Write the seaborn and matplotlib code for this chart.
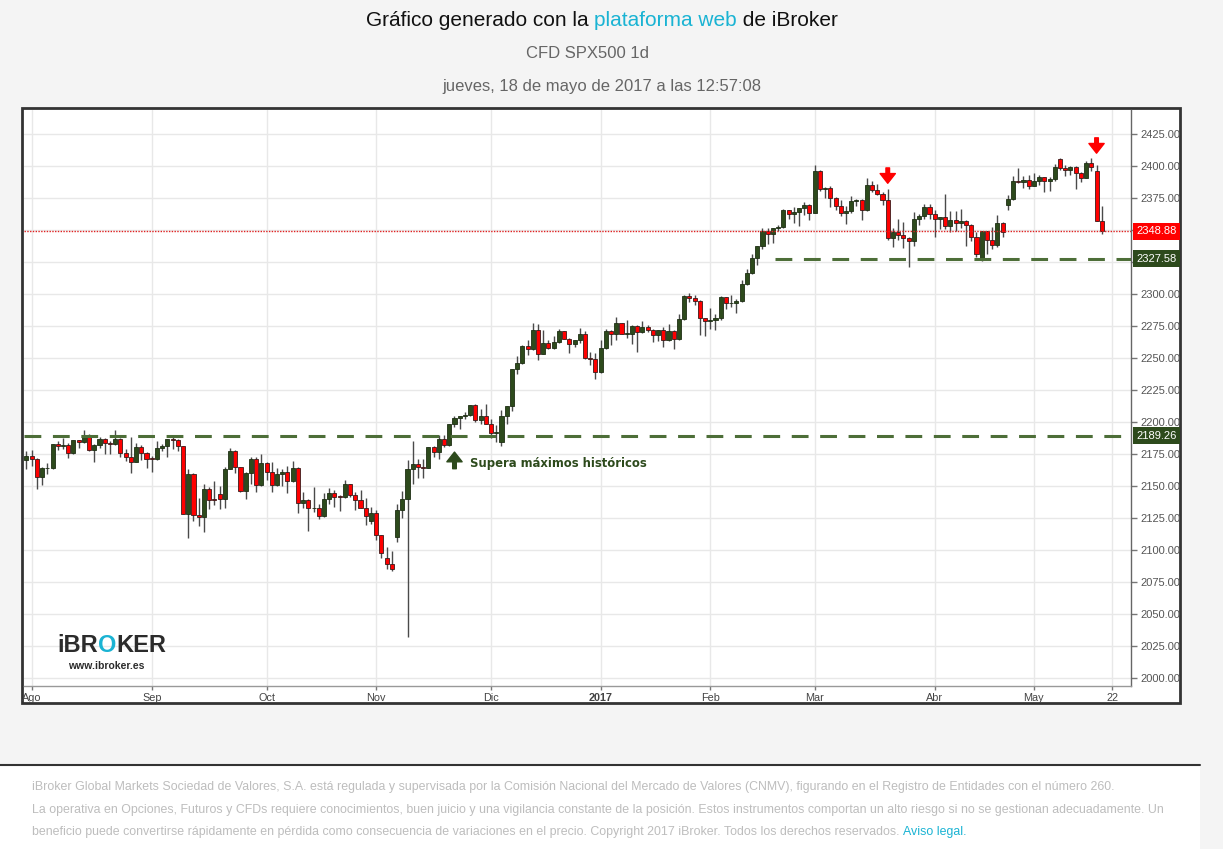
import matplotlib
matplotlib.use("Agg")
import matplotlib.pyplot as plt
import seaborn as sns
import pandas as pd
import numpy as np
from matplotlib.patches import Rectangle

# ---------------- data ----------------
dates = [
 "2016-07-29","2016-08-01","2016-08-02","2016-08-03","2016-08-04","2016-08-05","2016-08-08","2016-08-09","2016-08-10","2016-08-11","2016-08-12",
 "2016-08-15","2016-08-16","2016-08-17","2016-08-18","2016-08-19","2016-08-22","2016-08-23","2016-08-24","2016-08-25","2016-08-26",
 "2016-08-29","2016-08-30","2016-08-31","2016-09-01","2016-09-02","2016-09-05","2016-09-06","2016-09-07","2016-09-08","2016-09-09",
 "2016-09-12","2016-09-13","2016-09-14","2016-09-15","2016-09-16","2016-09-19","2016-09-20","2016-09-21","2016-09-22","2016-09-23",
 "2016-09-26","2016-09-27","2016-09-28","2016-09-29","2016-09-30","2016-10-03","2016-10-04","2016-10-05","2016-10-06","2016-10-07",
 "2016-10-10","2016-10-11","2016-10-12","2016-10-13","2016-10-14","2016-10-17","2016-10-18","2016-10-19","2016-10-20","2016-10-21",
 "2016-10-24","2016-10-25","2016-10-26","2016-10-27","2016-10-28","2016-10-31","2016-11-01","2016-11-02","2016-11-03","2016-11-04",
 "2016-11-07","2016-11-08","2016-11-09","2016-11-10","2016-11-11","2016-11-14","2016-11-15","2016-11-16","2016-11-17","2016-11-18",
 "2016-11-21","2016-11-22","2016-11-23","2016-11-24","2016-11-25","2016-11-28","2016-11-29","2016-11-30","2016-12-01","2016-12-02",
 "2016-12-05","2016-12-06","2016-12-07","2016-12-08","2016-12-09","2016-12-12","2016-12-13","2016-12-14","2016-12-15","2016-12-16",
 "2016-12-19","2016-12-20","2016-12-21","2016-12-22","2016-12-23","2016-12-27","2016-12-28","2016-12-29","2016-12-30",
 "2017-01-03","2017-01-04","2017-01-05","2017-01-06","2017-01-09","2017-01-10","2017-01-11","2017-01-12","2017-01-13",
 "2017-01-16","2017-01-17","2017-01-18","2017-01-19","2017-01-20","2017-01-23","2017-01-24","2017-01-25","2017-01-26","2017-01-27",
 "2017-01-30","2017-01-31","2017-02-01","2017-02-02","2017-02-03","2017-02-06","2017-02-07","2017-02-08","2017-02-09","2017-02-10",
 "2017-02-13","2017-02-14","2017-02-15","2017-02-16","2017-02-17","2017-02-20","2017-02-21","2017-02-22","2017-02-23","2017-02-24",
 "2017-02-27","2017-02-28","2017-03-01","2017-03-02","2017-03-03","2017-03-06","2017-03-07","2017-03-08","2017-03-09","2017-03-10",
 "2017-03-13","2017-03-14","2017-03-15","2017-03-16","2017-03-17","2017-03-20","2017-03-21","2017-03-22","2017-03-23","2017-03-24",
 "2017-03-27","2017-03-28","2017-03-29","2017-03-30","2017-03-31","2017-04-03","2017-04-04","2017-04-05","2017-04-06","2017-04-07",
 "2017-04-10","2017-04-11","2017-04-12","2017-04-13","2017-04-17","2017-04-18","2017-04-19","2017-04-20","2017-04-21",
 "2017-04-24","2017-04-25","2017-04-26","2017-04-27","2017-04-28","2017-05-01","2017-05-02","2017-05-03","2017-05-04","2017-05-05",
 "2017-05-08","2017-05-09","2017-05-10","2017-05-11","2017-05-12","2017-05-15","2017-05-16","2017-05-17","2017-05-18",
]

opens = [
 2170.0,2173.6,2170.8,2157.0,2163.8,2164.3,2182.9,2180.9,2181.7,2175.5,2185.8,
 2184.1,2190.2,2178.2,2182.2,2187.0,2183.9,2182.6,2186.9,2175.4,2172.5,
 2169.0,2180.4,2176.1,2171.0,2170.9,2180.0,2181.0,2186.5,2186.2,2181.3,
 2127.8,2159.0,2127.0,2125.8,2147.3,2139.2,2143.5,2139.8,2163.1,2177.2,
 2164.7,2146.1,2159.9,2171.4,2151.1,2168.3,2161.2,2150.5,2159.7,2160.8,
 2153.7,2163.7,2136.7,2139.2,2132.6,2133.0,2126.5,2139.6,2144.3,2141.3,
 2141.2,2151.3,2143.2,2139.4,2133.0,2122.5,2129.0,2111.7,2094.0,2089.0,
 2110.0,2131.5,2139.6,2163.3,2167.5,2164.5,2164.2,2180.4,2176.9,2187.1,
 2181.9,2198.2,2202.9,2204.7,2205.5,2213.4,2201.7,2204.7,2198.8,2191.1,
 2184.5,2204.7,2212.2,2241.4,2246.2,2259.5,2257.0,2271.7,2253.3,2262.0,
 2258.1,2262.5,2270.8,2265.2,2261.0,2263.8,2268.9,2249.9,2249.3,
 2238.8,2257.8,2270.8,2269.0,2277.0,2268.9,2268.9,2275.3,2270.4,
 2274.6,2272.0,2267.9,2271.9,2263.7,2271.3,2265.2,2280.1,2298.4,2296.7,
 2294.7,2280.9,2278.9,2279.6,2280.9,2297.4,2292.6,2293.1,2294.7,2307.9,
 2316.1,2328.3,2337.6,2349.3,2347.2,2351.2,2352.0,2365.4,2362.8,2363.8,
 2367.3,2369.8,2363.6,2396.0,2381.9,2383.1,2375.3,2368.4,2363.0,2364.9,
 2372.6,2373.5,2365.5,2385.3,2381.4,2378.3,2373.5,2344.0,2348.5,2346.0,
 2344.0,2341.6,2358.6,2361.1,2368.1,2362.7,2358.8,2360.2,2353.0,2357.5,
 2355.5,2357.2,2353.8,2344.9,2327.0,2349.0,2342.2,2338.2,2355.8,
 2369.5,2374.2,2388.6,2387.5,2388.8,2384.2,2388.3,2391.2,2388.1,2389.5,
 2405.5,2398.5,2396.9,2399.6,2394.4,2390.9,2402.3,2396.0,2357.0,
]

highs = [
 2177.0,2178.3,2171.5,2165.0,2168.2,2182.9,2185.4,2187.7,2183.4,2186.3,2186.3,
 2193.8,2190.5,2183.1,2187.9,2187.5,2185.0,2193.4,2187.2,2179.0,2187.9,
 2183.5,2182.3,2176.5,2173.6,2184.9,2183.0,2186.6,2187.9,2186.8,2181.5,
 2163.3,2160.0,2141.0,2151.8,2149.0,2153.6,2150.0,2165.1,2179.9,2178.0,
 2165.0,2161.0,2172.4,2172.7,2175.3,2168.5,2169.0,2163.9,2162.9,2165.9,
 2169.6,2165.0,2145.4,2139.5,2149.2,2135.6,2144.4,2148.4,2147.2,2142.6,
 2154.8,2151.6,2145.7,2147.1,2140.7,2133.3,2131.0,2112.0,2102.6,2099.0,
 2136.0,2146.0,2170.1,2185.0,2171.0,2171.4,2180.8,2181.0,2189.9,2189.9,
 2198.7,2204.8,2204.7,2208.0,2213.4,2214.0,2210.4,2214.1,2202.6,2197.9,
 2209.4,2212.6,2241.6,2251.7,2259.8,2264.0,2277.5,2276.2,2272.1,2263.9,
 2267.0,2272.6,2271.2,2266.0,2264.0,2273.8,2271.3,2254.5,2253.6,
 2263.9,2272.8,2271.5,2282.1,2277.5,2279.3,2275.5,2275.8,2278.7,
 2276.0,2273.0,2272.0,2274.3,2276.9,2271.8,2284.6,2299.6,2301.0,2299.0,
 2295.0,2281.5,2289.1,2284.0,2298.3,2298.0,2299.4,2295.9,2311.1,2319.2,
 2331.6,2337.6,2351.3,2351.3,2351.2,2354.0,2366.7,2366.0,2368.3,2367.3,
 2371.5,2370.5,2401.0,2396.5,2383.9,2384.0,2376.0,2373.6,2369.1,2376.9,
 2374.4,2374.0,2390.6,2388.1,2385.7,2379.3,2382.0,2351.8,2358.6,2356.2,
 2344.9,2363.8,2362.6,2370.4,2370.4,2365.9,2360.5,2378.4,2364.8,2365.1,
 2366.4,2357.5,2354.5,2348.3,2349.1,2349.5,2352.6,2361.4,2356.2,
 2377.0,2392.0,2398.2,2392.4,2393.1,2394.5,2392.9,2391.5,2391.4,2401.5,
 2406.5,2400.5,2399.7,2400.0,2395.0,2404.0,2406.0,2401.0,2369.0,
]

lows = [
 2163.5,2166.0,2147.6,2150.6,2159.1,2163.5,2177.8,2178.6,2172.0,2174.8,2179.4,
 2183.5,2177.0,2168.5,2180.0,2175.1,2175.1,2182.0,2172.5,2169.7,2160.4,
 2168.5,2170.4,2164.0,2161.1,2170.0,2177.5,2173.0,2179.0,2177.0,2127.8,
 2109.0,2123.0,2119.0,2114.0,2132.0,2135.0,2132.0,2133.0,2163.0,2160.0,
 2145.0,2140.0,2151.8,2145.2,2150.0,2155.0,2145.0,2150.0,2150.0,2144.9,
 2153.0,2128.8,2132.8,2114.7,2130.0,2124.4,2126.0,2135.6,2133.4,2130.1,
 2141.0,2141.5,2131.6,2132.5,2119.4,2120.5,2108.0,2094.0,2085.2,2083.8,
 2106.0,2125.0,2032.0,2151.2,2156.1,2156.1,2163.8,2172.4,2171.4,2180.4,
 2181.5,2196.0,2194.5,2202.0,2204.5,2200.0,2198.2,2198.8,2187.4,2184.0,
 2181.0,2198.8,2208.9,2237.6,2245.0,2252.4,2256.0,2248.4,2253.2,2257.0,
 2257.0,2262.0,2265.2,2254.0,2258.8,2262.0,2249.1,2244.6,2233.6,
 2238.0,2257.0,2260.5,2264.0,2268.5,2265.3,2260.8,2254.3,2269.5,
 2270.0,2262.8,2263.4,2258.4,2263.0,2257.0,2264.0,2279.5,2294.1,2291.6,
 2268.0,2267.2,2272.4,2271.7,2280.0,2288.6,2290.2,2285.4,2294.0,2307.0,
 2315.5,2322.4,2334.8,2338.9,2339.6,2349.0,2351.5,2358.3,2355.1,2352.9,
 2361.9,2358.1,2363.0,2380.2,2375.1,2368.0,2365.5,2361.0,2354.5,2363.0,
 2368.5,2358.2,2365.0,2379.4,2377.6,2369.7,2341.9,2336.5,2342.1,2335.7,
 2321.0,2337.6,2353.6,2358.6,2358.8,2344.7,2350.7,2350.5,2348.4,2349.6,
 2351.5,2337.3,2341.2,2328.9,2325.5,2331.3,2335.3,2337.0,2344.5,
 2366.0,2373.5,2386.8,2382.7,2382.4,2384.0,2385.2,2379.8,2380.4,2388.5,
 2396.5,2392.4,2392.8,2381.7,2387.2,2390.5,2396.0,2356.9,2347.0,
]

closes = [
 2173.6,2170.8,2157.0,2163.8,2164.3,2182.9,2180.9,2181.7,2175.5,2185.8,2184.1,
 2190.2,2178.2,2182.2,2187.0,2183.9,2182.6,2186.9,2175.4,2172.5,2169.0,
 2180.4,2176.1,2171.0,2170.9,2180.0,2181.0,2186.5,2186.2,2181.3,2127.8,
 2159.0,2127.0,2125.8,2147.3,2139.2,2139.1,2139.8,2163.1,2177.2,2164.7,
 2146.1,2159.9,2171.4,2151.1,2168.3,2161.2,2150.5,2159.7,2160.8,2153.7,
 2163.7,2136.7,2139.2,2132.6,2133.0,2126.5,2139.6,2144.3,2141.3,2141.2,
 2151.3,2143.2,2139.4,2133.0,2126.4,2129.0,2111.7,2097.9,2088.7,2085.2,
 2131.5,2139.6,2163.3,2167.5,2164.5,2164.2,2180.4,2176.9,2187.1,2181.9,
 2198.2,2202.9,2204.7,2205.5,2213.4,2201.7,2204.7,2198.8,2191.1,2192.0,
 2204.7,2212.2,2241.4,2246.2,2259.5,2257.0,2271.7,2253.3,2262.0,2258.1,
 2262.5,2270.8,2265.2,2261.0,2263.8,2268.9,2249.9,2249.3,2238.8,
 2257.8,2270.8,2269.0,2277.0,2268.9,2268.9,2275.3,2270.4,2274.6,
 2272.0,2267.9,2271.9,2263.7,2271.3,2265.2,2280.1,2298.4,2296.7,2294.7,
 2280.9,2278.9,2279.6,2280.9,2297.4,2292.6,2293.1,2294.7,2307.9,2316.1,
 2328.3,2337.6,2349.3,2347.2,2351.2,2352.0,2365.4,2362.8,2363.8,2367.3,
 2369.8,2363.6,2396.0,2381.9,2383.1,2375.3,2368.4,2363.0,2364.9,2372.6,
 2373.5,2365.5,2385.3,2381.4,2378.3,2373.5,2344.0,2348.5,2346.0,2344.0,
 2341.6,2358.6,2361.1,2368.1,2362.7,2358.8,2360.2,2353.0,2357.5,2355.5,
 2357.2,2353.8,2344.9,2331.0,2349.0,2342.2,2338.2,2355.8,2348.7,
 2374.2,2388.6,2387.5,2388.8,2384.2,2388.3,2391.2,2388.1,2389.5,2399.3,
 2398.5,2396.9,2399.6,2394.4,2390.9,2402.3,2399.5,2357.0,2348.88,
]

tick_labels = ["Ago", "Sep", "Oct", "Nov", "Dic", "2017", "Feb", "Mar", "Abr", "May", "22"]
tick_dates = ["2016-08-01", "2016-09-01", "2016-10-03", "2016-11-01", "2016-12-01", "2017-01-03",
              "2017-02-01", "2017-03-01", "2017-04-03", "2017-05-01", "2017-05-22"]

level_values = [2348.88, 2327.58, 2189.26]
level_labels = ["2348.88", "2327.58", "2189.26"]
level_start = [None, "2017-02-17", None]

down_arrow_dates = ["2017-03-21", "2017-05-17"]
down_arrow_prices = [2392.0, 2415.5]
up_arrow_date = "2016-11-22"
up_arrow_price = 2170.0
note_text = "Supera máximos históricos"

# ---------------- style ----------------
sns.set_theme(style="white")
plt.rcParams["font.family"] = ["Liberation Sans", "DejaVu Sans"]

W, H = 1223, 849
BG = "#f4f4f4"
GREEN = "#2d4a1c"
RED = "#ff0000"
LEVEL_GREEN = "#4d6e38"
CYAN = "#1ab3d3"

fig = plt.figure(figsize=(W / 100, H / 100), dpi=100, facecolor=BG)

def fx(px):
    return px / W

def fy(py):
    return 1 - py / H

# white chart box with dark frame
fig.patches.append(Rectangle((fx(22), fy(703)), fx(1180) - fx(22), fy(108) - fy(703),
                             transform=fig.transFigure, facecolor="white",
                             edgecolor="#333333", linewidth=2, zorder=-5))
# footer
fig.patches.append(Rectangle((0, 0), fx(1200), fy(765), transform=fig.transFigure,
                             facecolor="white", edgecolor="none", zorder=-5))
fig.lines.append(plt.Line2D([0, fx(1200)], [fy(765), fy(765)], transform=fig.transFigure,
                            color="#333333", linewidth=1.5, zorder=-4))

ax = fig.add_axes([fx(24), fy(686), fx(1131) - fx(24), fy(110) - fy(686)])
ax.set_zorder(2)
ax.set_facecolor("white")

df = pd.DataFrame({"date": pd.to_datetime(dates), "open": opens, "high": highs,
                   "low": lows, "close": closes})
df["x"] = np.arange(len(df))
pos = {d: i for i, d in enumerate(dates)}

def xpos(d):
    if d in pos:
        return pos[d]
    last = dates[-1]
    return len(dates) - 1 + np.busday_count(last, d)

up = df["close"] >= df["open"]
body_bottom = np.minimum(df["open"], df["close"])
body_h = np.maximum(np.abs(df["close"] - df["open"]), 0.6)

ax.vlines(df["x"], df["low"], df["high"], color="#4a4a4a", linewidth=1, zorder=2)
ax.bar(df["x"][up], body_h[up], bottom=body_bottom[up], width=0.78, color=GREEN,
       edgecolor="#1e2e14", linewidth=0.6, zorder=3)
ax.bar(df["x"][~up], body_h[~up], bottom=body_bottom[~up], width=0.78, color=RED,
       edgecolor="#3a1a1a", linewidth=0.6, zorder=3)

xmin, xmax = -0.47, 211.6
ax.set_xlim(xmin, xmax)
ax.set_ylim(1993.75, 2443.75)

# grid
yt = np.arange(2000, 2426, 25)
xt = [xpos(d) for d in tick_dates]
for v in yt:
    ax.axhline(v, color="#e8e8e8", linewidth=1, zorder=0)
for v in xt:
    ax.axvline(v, color="#e8e8e8", linewidth=1, zorder=0)

# level lines
for val, lab, start in zip(level_values, level_labels, level_start):
    if val == level_values[0]:
        ax.axhline(val, color="#e02020", linewidth=1, linestyle=(0, (1, 1)), zorder=4)
        fc = "#ff0000"
    else:
        x0 = xmin if start is None else xpos(start) + 0.4
        ax.hlines(val, x0, xmax, color=LEVEL_GREEN, linewidth=2.2,
                  linestyle=(0, (5.5, 3.8)), zorder=4)
        fc = "#2d4a1c"
    ax.annotate(lab, xy=(1.0, val), xycoords=("axes fraction", "data"),
                xytext=(4, 0), textcoords="offset points", ha="left", va="center",
                fontsize=8, color="white", zorder=10, annotation_clip=False,
                bbox=dict(boxstyle="square,pad=0.3", fc=fc, ec="none"))

# arrows
for d, p in zip(down_arrow_dates, down_arrow_prices):
    x = xpos(d)
    ax.annotate("", xy=(x, p - 5.5), xytext=(x, p + 6.5),
                arrowprops=dict(facecolor="#ff0000", edgecolor="#ff0000", width=2.6,
                                headwidth=11, headlength=7, shrink=0), zorder=6)
xu = xpos(up_arrow_date)
ax.annotate("", xy=(xu, up_arrow_price + 6.5), xytext=(xu, up_arrow_price - 6.5),
            arrowprops=dict(facecolor="#2d4a1c", edgecolor="#2d4a1c", width=2.6,
                            headwidth=11, headlength=7, shrink=0), zorder=6)
ax.text(xu + 3.0, up_arrow_price - 2.5, note_text, fontsize=8.4, fontweight="bold",
        color="#2d4a1c", family=["DejaVu Sans"], va="center", ha="left", zorder=6)

# axes styling (tick labels hidden behind level boxes are left blank)
ax.yaxis.tick_right()
ax.set_yticks(yt)
ax.set_yticklabels(["" if v in (2350, 2325) else f"{v:.2f}" for v in yt],
                   fontsize=8, color="#555555")
ax.set_xticks(xt)
ax.set_xticklabels(tick_labels, fontsize=7.8, color="#444444")
for lab in ax.get_xticklabels():
    if lab.get_text() == "2017":
        lab.set_fontweight("bold")
ax.tick_params(axis="y", which="both", right=True, length=4, width=1, color="#777777", pad=3)
ax.tick_params(axis="x", which="both", bottom=True, length=3, width=1, color="#777777", pad=2)
for s in ["top", "left"]:
    ax.spines[s].set_visible(False)
ax.spines["right"].set_color("#666666")
ax.spines["bottom"].set_color("#999999")
ax.spines["right"].set_linewidth(1)
ax.spines["bottom"].set_linewidth(1)
ax.grid(False)

# multi-coloured text helper
renderer = fig.canvas.get_renderer()

def parts_text(xc, yc, parts, ha="center", **kw):
    objs = []
    widths = []
    for txt, col, extra in parts:
        t = fig.text(0, fy(yc), txt, color=col, va="center", ha="left", **kw, **extra)
        bb = t.get_window_extent(renderer)
        objs.append(t)
        widths.append(bb.width)
    total = sum(widths)
    x = xc - total / 2 if ha == "center" else xc
    for t, w in zip(objs, widths):
        t.set_x(fx(x))
        x += w

parts_text(602, 20, [("Gráfico generado con la ", "#111111", {}),
                     ("plataforma web", CYAN, {}),
                     (" de iBroker", "#111111", {})], fontsize=15)
fig.text(fx(588), fy(54), "CFD SPX500 1d", color="#666666", fontsize=12, ha="center", va="center")
fig.text(fx(602), fy(87), "jueves, 18 de mayo de 2017 a las 12:57:08", color="#666666",
         fontsize=12, ha="center", va="center")

# logo (drawn above the axes)
def logo_text(x, y, s, **kw):
    t = fig.text(fx(x), fy(y), s, **kw)
    t.set_zorder(5)
    return t

xx = 57
for s, c in [("iBR", "#2b2b2b"), ("O", CYAN), ("KER", "#2b2b2b")]:
    t = logo_text(xx, 646, s, color=c, fontsize=17, fontweight="bold", ha="left", va="center")
    xx += t.get_window_extent(renderer).width
logo_text(68, 666, "www.ibroker.es", color="#2b2b2b", fontsize=7.5,
          fontweight="bold", ha="left", va="center")

# footer text
FOOT = "#bdbdbd"
FS = 8.9
fig.text(fx(32), fy(787), "iBroker Global Markets Sociedad de Valores, S.A. está regulada y supervisada por la Comisión Nacional del Mercado de Valores (CNMV), figurando en el Registro de Entidades con el número 260.",
         color=FOOT, fontsize=FS, ha="left", va="center")
fig.text(fx(32), fy(810), "La operativa en Opciones, Futuros y CFDs requiere conocimientos, buen juicio y una vigilancia constante de la posición. Estos instrumentos comportan un alto riesgo si no se gestionan adecuadamente. Un",
         color=FOOT, fontsize=FS, ha="left", va="center")
parts_text(32, 832, [("beneficio puede convertirse rápidamente en pérdida como consecuencia de variaciones en el precio. Copyright 2017 iBroker. Todos los derechos reservados. ", FOOT, {}),
                     ("Aviso legal.", CYAN, {})], ha="left", fontsize=FS)

fig.savefig("out.png", dpi=100, facecolor=BG)
